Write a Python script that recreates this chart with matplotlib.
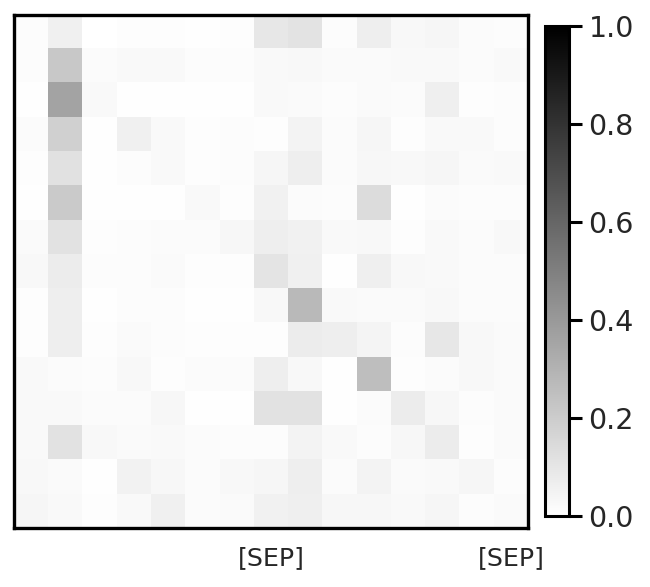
# -*- coding: utf-8 -*-
import numpy as np
import matplotlib as mpl
mpl.use('Agg')
import matplotlib.pyplot as plt

plt.rcParams['font.family'] = ['DejaVu Sans']

row0 = [.012, .059, .000, .008, .008, .004, .008, .094, .110, .012, .067, .031, .039, .016, .012]
row1 = [.012, .216, .016, .024, .024, .012, .012, .024, .031, .020, .020, .024, .024, .016, .027]
row2 = [.004, .361, .027, .004, .004, .004, .004, .024, .020, .012, .020, .016, .063, .008, .012]
row3 = [.016, .184, .004, .059, .024, .008, .012, .008, .047, .016, .039, .008, .027, .027, .012]
row4 = [.008, .118, .004, .012, .027, .008, .012, .039, .067, .016, .035, .031, .039, .020, .027]
row5 = [.004, .208, .004, .004, .004, .027, .008, .055, .016, .012, .137, .004, .016, .012, .012]
row6 = [.020, .114, .008, .012, .016, .016, .035, .067, .055, .024, .031, .008, .027, .016, .031]
row7 = [.031, .078, .012, .012, .020, .008, .008, .106, .059, .004, .063, .031, .027, .016, .016]
row8 = [.008, .067, .004, .012, .012, .004, .004, .031, .275, .027, .020, .020, .031, .016, .016]
row9 = [.008, .067, .008, .020, .012, .008, .008, .008, .075, .067, .043, .012, .094, .031, .020]
row10 = [.024, .016, .012, .031, .008, .016, .016, .067, .031, .004, .255, .008, .016, .031, .020]
row11 = [.027, .024, .016, .016, .035, .004, .004, .114, .114, .004, .016, .075, .035, .012, .020]
row12 = [.027, .114, .031, .020, .027, .016, .012, .012, .047, .024, .012, .035, .078, .008, .020]
row13 = [.031, .020, .004, .051, .035, .016, .031, .039, .067, .016, .047, .020, .024, .039, .012]
row14 = [.039, .027, .008, .024, .059, .016, .020, .055, .063, .035, .035, .027, .039, .012, .020]

attention = np.array([row0, row1, row2, row3, row4, row5, row6, row7, row8, row9,
                      row10, row11, row12, row13, row14])
sep_positions = [7, 14]
sep_labels = ['[SEP]', '[SEP]']

W, H = 650, 587
fig = plt.figure(figsize=(W / 100, H / 100), dpi=100)

ax = fig.add_axes([14.5 / W, 1 - 528 / H, 513.5 / W, 513.5 / H])
im = ax.imshow(attention, cmap='gray_r', vmin=0, vmax=1, aspect='auto',
               interpolation='nearest')
ax.set_xticks(sep_positions)
ax.set_xticklabels(sep_labels, fontsize=18.3, color='#262626')
ax.set_yticks([])
ax.tick_params(axis='x', length=0, pad=13)
for s in ax.spines.values():
    s.set_linewidth(2.4)

cax = fig.add_axes([544.5 / W, 1 - 516 / H, 24.5 / W, 490 / H])
cb = fig.colorbar(im, cax=cax)
cb.set_ticks([0, .2, .4, .6, .8, 1])
cb.ax.tick_params(labelsize=20.5, length=9, width=2.2, pad=5, labelcolor='#262626')
cb.outline.set_linewidth(2.2)

plt.savefig('out.png', dpi=100)
